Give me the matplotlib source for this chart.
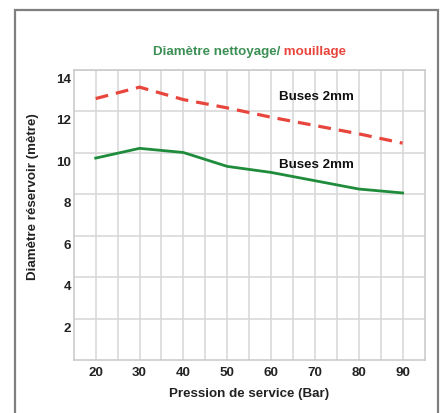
import matplotlib
matplotlib.use('Agg')
import matplotlib.pyplot as plt
import matplotlib.transforms as mtransforms
from matplotlib.patches import Rectangle

plt.rcParams['font.family'] = ['Liberation Sans', 'DejaVu Sans']

# data
pression = [20, 30, 40, 50, 60, 70, 80, 90]
mouillage = [12.6, 13.15, 12.55, 12.15, 11.7, 11.3, 10.9, 10.45]
nettoyage = [9.73, 10.2, 10.0, 9.33, 9.04, 8.64, 8.24, 8.05]
x_ticks = [20, 30, 40, 50, 60, 70, 80, 90]
y_ticks = [2, 4, 6, 8, 10, 12, 14]

GREEN = '#1f8c3c'
RED = '#e8453c'
TITLE_GREEN = '#3c8f55'
GRID = '#d6d6d6'
FS = 9.6

W, H = 443, 414
fig = plt.figure(figsize=(W / 100, H / 100), dpi=100)

# outer grey frame
fig.patches.append(Rectangle((15 / W, -0.02), (438 - 15) / W, 1 - 11 / H + 0.02,
                             transform=fig.transFigure, fill=False,
                             edgecolor='#7f7f7f', linewidth=1.6))

left, right, top, bottom = 73.8, 424.5, 70.5, 361
ax = fig.add_axes([left / W, (H - bottom) / H, (right - left) / W, (bottom - top) / H])

ax.plot(pression, mouillage, color=RED, linewidth=2.3, linestyle=(0, (4, 2.5)))
ax.plot(pression, nettoyage, color=GREEN, linewidth=2.0)

ax.set_xlim(15, 95)
ax.set_ylim(0, 14)
ax.set_xticks(x_ticks)
ax.set_yticks(y_ticks)
ax.set_xticks(range(25, 95, 10), minor=True)
ax.grid(True, which='both', color=GRID, linewidth=1.1)
ax.set_axisbelow(True)
for s in ax.spines.values():
    s.set_color('#c8c8c8')
    s.set_linewidth(1.1)
ax.tick_params(which='both', length=0)
ax.tick_params(axis='x', pad=4)
ax.tick_params(axis='y', pad=2)
for lab in ax.get_xticklabels() + ax.get_yticklabels():
    lab.set_fontweight('bold')
    lab.set_fontsize(FS)
    lab.set_color('#222222')

# y labels sit a bit below their grid lines in the original
offset = mtransforms.ScaledTranslation(0, -0.08, fig.dpi_scale_trans)
for lab in ax.get_yticklabels():
    lab.set_transform(lab.get_transform() + offset)

ax.text(70.45, 12.73, 'Buses 2mm', ha='center', va='center', fontsize=FS,
        fontweight='bold', color='#111111')
ax.text(70.45, 9.45, 'Buses 2mm', ha='center', va='center', fontsize=FS,
        fontweight='bold', color='#111111')

# two-colour title
fig.text(280 / W, 1 - 52 / H, 'Diamètre nettoyage/', ha='right', va='center',
         fontsize=FS, fontweight='bold', color=TITLE_GREEN)
fig.text(280 / W, 1 - 52 / H, ' mouillage', ha='left', va='center',
         fontsize=FS, fontweight='bold', color=RED)

fig.text(249 / W, 1 - 394 / H, 'Pression de service (Bar)', ha='center', va='center',
         fontsize=FS, fontweight='bold', color='#222222')
fig.text(33 / W, 1 - 197 / H, 'Diamètre réservoir (mètre)', ha='center', va='center',
         rotation=90, fontsize=FS, fontweight='bold', color='#222222')

fig.savefig('out.png', dpi=100)
